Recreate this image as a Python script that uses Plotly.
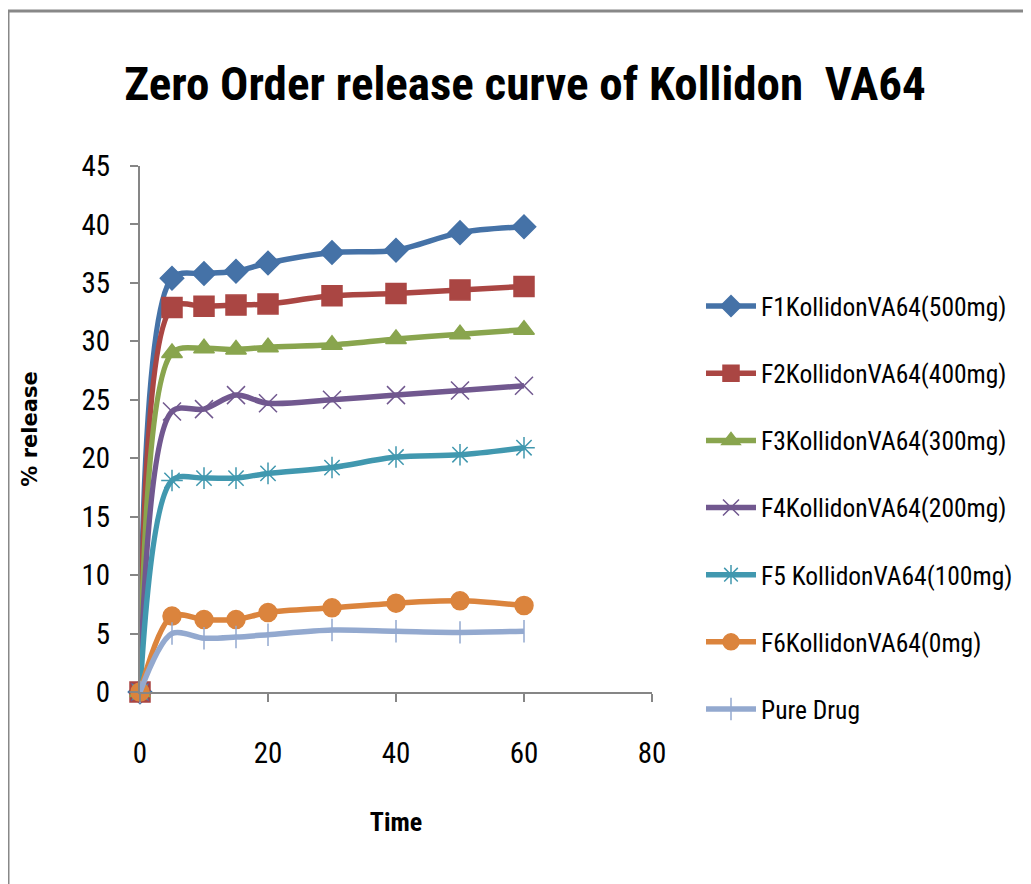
import plotly.graph_objects as go

time = [0, 5, 10, 15, 20, 30, 40, 50, 60]
f1 = [0, 35.4, 35.8, 36.0, 36.7, 37.6, 37.8, 39.3, 39.8]
f2 = [0, 32.9, 33.0, 33.1, 33.2, 33.9, 34.1, 34.4, 34.7]
f3 = [0, 29.0, 29.4, 29.3, 29.5, 29.7, 30.2, 30.6, 31.0]
f4 = [0, 24.0, 24.2, 25.4, 24.7, 25.0, 25.4, 25.8, 26.2]
f5 = [0, 18.1, 18.3, 18.3, 18.7, 19.2, 20.1, 20.3, 20.9]
f6 = [0, 6.5, 6.2, 6.2, 6.8, 7.2, 7.6, 7.8, 7.4]
pure = [0, 5.0, 4.6, 4.7, 4.9, 5.3, 5.2, 5.1, 5.2]

names = ["F1KollidonVA64(500mg)", "F2KollidonVA64(400mg)", "F3KollidonVA64(300mg)",
         "F4KollidonVA64(200mg)", "F5 KollidonVA64(100mg)", "F6KollidonVA64(0mg)", "Pure Drug"]
series = [f1, f2, f3, f4, f5, f6, pure]
colors = ["#4572A7", "#AA4643", "#89A54E", "#71588F", "#4198AF", "#DB843D", "#93A9CF"]
symbols = ["diamond", "square", "triangle-up", "x-thin-open", "asterisk-open", "circle", "line-ns-open"]
sizes = [18, 20, 18, 18, 18, 18, 16]

FONT = "Roboto Condensed, Liberation Sans Narrow, Arial Narrow, sans-serif"

# plot area in figure coordinates (page body adds an 8px offset)
L, T, W, H = 132, 158, 512, 526

fig = go.Figure()
for i, (n, s, c, sym, sz) in enumerate(zip(names, series, colors, symbols, sizes)):
    fig.add_trace(go.Scatter(
        x=time, y=s, name=n, mode="lines+markers",
        line=dict(color=c, width=5.5, shape="spline", smoothing=0.9),
        marker=dict(symbol=sym, size=sz, color=c, line=dict(color=c, width=1.5)),
        legendgroup=f"g{i}", cliponaxis=False,
    ))

fig.add_shape(type="rect", xref="paper", yref="paper",
              x0=(0 - L) / W, x1=(1017 - L) / W,
              y0=(T + H - 900) / H, y1=(T + H - 3) / H,
              line=dict(color="#888888", width=3), layer="below")

fig.update_layout(
    width=1031, height=884,
    margin=dict(l=L, r=1031 - L - W, t=T, b=884 - T - H, autoexpand=False),
    paper_bgcolor="white", plot_bgcolor="white",
    title=dict(text="<b>Zero Order release curve of Kollidon  VA64</b>",
               x=517 / 1031, xanchor="center", y=1 - 76 / 884, yanchor="middle",
               font=dict(family=FONT, size=47, color="black")),
    font=dict(family=FONT, color="black"),
    showlegend=True,
    legend=dict(x=(701 - 140) / W, xanchor="left", y=(692 - 283) / H, yanchor="top",
                font=dict(family=FONT, size=25.5, color="black"),
                itemwidth=50,
                tracegroupgap=31, bgcolor="rgba(0,0,0,0)"),
    xaxis=dict(range=[0, 80], tickvals=[0, 20, 40, 60, 80], showgrid=False, zeroline=False,
               showline=True, linecolor="#868686", linewidth=2,
               ticks="outside", ticklen=8, tickcolor="#868686", tickwidth=2,
               ticklabelstandoff=26,
               tickfont=dict(family=FONT, size=29, color="black"),
               title=dict(text="<b>Time</b>", font=dict(family=FONT, size=26, color="black"), standoff=44)),
    yaxis=dict(range=[0, 45], dtick=5, showgrid=False, zeroline=False,
               showline=True, linecolor="#868686", linewidth=2,
               ticks="outside", ticklen=8, tickcolor="#868686", tickwidth=2,
               ticklabelstandoff=14,
               tickfont=dict(family=FONT, size=29, color="black"),
               title=dict(text="<b>% release</b>", font=dict(family="DejaVu Sans, Verdana, sans-serif", size=21, color="black"), standoff=38)),
)

fig.write_html("out.html")
